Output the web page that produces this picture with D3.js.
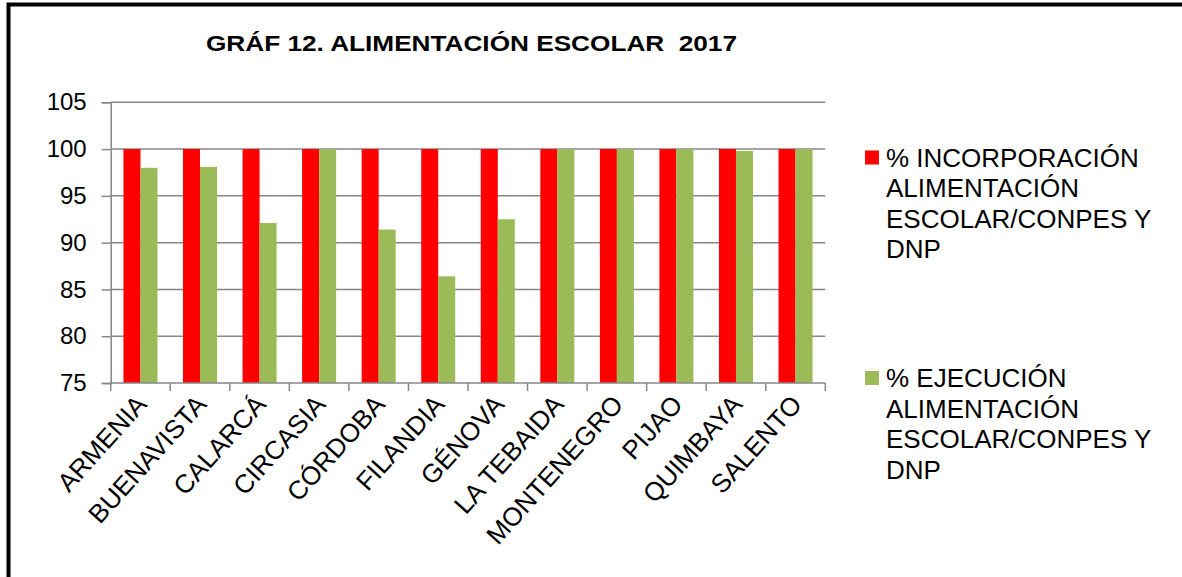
<!DOCTYPE html>
<html>
<head>
<meta charset="utf-8">
<script src="https://cdn.jsdelivr.net/npm/d3@7"></script>
<style>
  body { margin: 0; background: #fff; overflow: hidden; }
  svg { display: block; font-family: "Liberation Sans", Arial, sans-serif; }
</style>
</head>
<body>
<svg id="chart" width="1182" height="577"></svg>
<script>
// chart data
const municipios = ['ARMENIA', 'BUENAVISTA', 'CALARCÁ', 'CIRCASIA', 'CÓRDOBA', 'FILANDIA',
  'GÉNOVA', 'LA TEBAIDA', 'MONTENEGRO', 'PIJAO', 'QUIMBAYA', 'SALENTO'];
const incorporacion = [100, 100, 100, 100, 100, 100, 100, 100, 100, 100, 100, 100];
const ejecucion = [98.0, 98.1, 92.1, 100, 91.4, 86.4, 92.5, 100, 100, 100, 99.8, 100];
const seriesNames = ['% INCORPORACIÓN ALIMENTACIÓN ESCOLAR/CONPES Y DNP',
  '% EJECUCIÓN ALIMENTACIÓN ESCOLAR/CONPES Y DNP'];
const yTicks = [75, 80, 85, 90, 95, 100, 105];
const title = 'GRÁF 12. ALIMENTACIÓN ESCOLAR  2017';

const colors = ['#ff0000', '#9bbb59'];
const legendLines = [
  ['% INCORPORACIÓN', 'ALIMENTACIÓN', 'ESCOLAR/CONPES Y', 'DNP'],
  ['% EJECUCIÓN', 'ALIMENTACIÓN', 'ESCOLAR/CONPES Y', 'DNP']
];

const svg = d3.select('#chart');
const plotLeft = 110.7, plotRight = 825.3, plotTop = 102.3, plotBottom = 383;
const grey = '#878787';

// outer frame (only top and left edges show)
svg.append('path')
  .attr('d', 'M8.5,577V4.5H1182')
  .attr('fill', 'none').attr('stroke', '#000').attr('stroke-width', 4);

// title
svg.append('text')
  .attr('x', 206).attr('y', 51)
  .attr('font-size', 22).attr('font-weight', 'bold')
  .attr('textLength', 531).attr('lengthAdjust', 'spacingAndGlyphs')
  .style('white-space', 'pre')
  .text(title);

const x = d3.scaleBand().domain(municipios).range([plotLeft, plotRight]).padding(0);
const xSub = d3.scaleBand().domain([0, 1]).range([0, x.bandwidth()])
  .paddingInner(0).paddingOuter(0.75);
const y = d3.scaleLinear().domain([75, 105]).range([plotBottom, plotTop]);

// gridlines
svg.append('g')
  .selectAll('line')
  .data(yTicks.filter(d => d > 75))
  .join('line')
    .attr('x1', plotLeft).attr('x2', plotRight)
    .attr('y1', d => y(d)).attr('y2', d => y(d))
    .attr('stroke', grey).attr('stroke-width', 1.5);

// y axis
const yAxisG = svg.append('g')
  .attr('transform', `translate(${plotLeft},0)`)
  .call(d3.axisLeft(y).tickValues(yTicks).tickSize(9).tickPadding(15));
yAxisG.select('.domain').attr('stroke', grey).attr('stroke-width', 1.5);
yAxisG.selectAll('.tick line').attr('stroke', grey).attr('stroke-width', 1.5);
yAxisG.selectAll('.tick text')
  .attr('font-size', 24).attr('font-family', '"Liberation Sans", Arial, sans-serif')
  .attr('fill', '#000');

// bars
const groups = svg.append('g')
  .selectAll('g')
  .data(municipios)
  .join('g')
    .attr('transform', d => `translate(${x(d)},0)`);

groups.selectAll('rect')
  .data((d, i) => [incorporacion[i], ejecucion[i]])
  .join('rect')
    .attr('x', (d, j) => xSub(j))
    .attr('width', xSub.bandwidth())
    .attr('y', d => y(d))
    .attr('height', d => y(75) - y(d))
    .attr('fill', (d, j) => colors[j]);

// x axis line and boundary ticks
const xAxisG = svg.append('g');
xAxisG.append('line')
  .attr('x1', plotLeft).attr('x2', plotRight)
  .attr('y1', plotBottom).attr('y2', plotBottom)
  .attr('stroke', grey).attr('stroke-width', 1.5);
const bounds = municipios.map(d => x(d)).concat([plotRight]);
xAxisG.selectAll('.bt')
  .data(bounds)
  .join('line')
    .attr('class', 'bt')
    .attr('x1', d => d).attr('x2', d => d)
    .attr('y1', plotBottom).attr('y2', plotBottom + 8)
    .attr('stroke', grey).attr('stroke-width', 1.5);

// category labels, rotated
xAxisG.selectAll('.lab')
  .data(municipios)
  .join('text')
    .attr('class', 'lab')
    .attr('transform', d => `translate(${x(d) + x.bandwidth() / 2 - 6},${plotBottom + 10}) rotate(-48)`)
    .attr('text-anchor', 'end')
    .attr('dy', '0.71em')
    .attr('font-size', 26)
    .text(d => d);

// legend
const legendY = [150.5, 371];
const legend = svg.append('g')
  .selectAll('g')
  .data(seriesNames)
  .join('g')
    .attr('transform', (d, i) => `translate(865,${legendY[i]})`);

legend.append('rect')
  .attr('width', 14).attr('height', 14)
  .attr('fill', (d, i) => colors[i]);

legend.append('text')
  .attr('x', 21)
  .attr('font-size', 26)
  .selectAll('tspan')
  .data((d, i) => legendLines[i])
  .join('tspan')
    .attr('x', 21)
    .attr('y', (d, k) => 16 + k * 30.5)
    .text(d => d);
</script>
</body>
</html>
